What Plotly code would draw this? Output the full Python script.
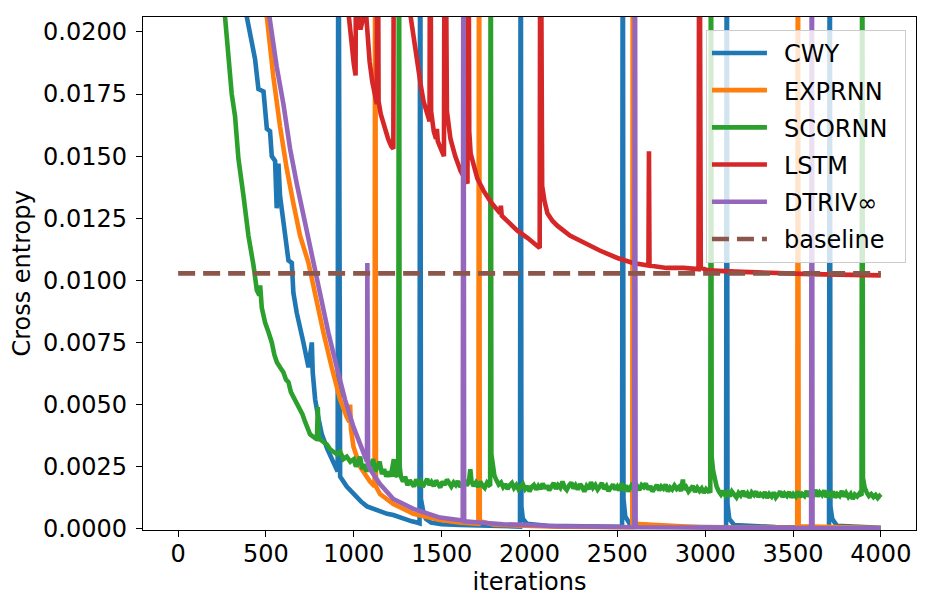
import plotly.graph_objects as go

# ---- data (iteration, cross entropy) ----
# values of 0.030 mark spikes that leave the top of the visible range
CWY = [(0, 0.030), (300, 0.024), (391, 0.0206), (419, 0.0196), (438, 0.0189), (457, 0.0177),
       (486, 0.0176), (505, 0.0161), (523, 0.0160), (533, 0.0150), (552, 0.0148), (561, 0.0129),
       (571, 0.0147), (580, 0.0134), (600, 0.0122), (628, 0.0108), (647, 0.0107), (656, 0.0095),
       (675, 0.0087), (694, 0.0080), (713, 0.0075), (742, 0.0065), (761, 0.0075), (766, 0.0063),
       (780, 0.0052), (800, 0.0044), (818, 0.0038), (850, 0.0032), (875, 0.0028), (900, 0.0024),
       (908, 0.0023), (912, 0.030), (916, 0.0022), (922, 0.0021), (960, 0.0017), (998, 0.0014),
       (1040, 0.0011), (1075, 0.0009), (1111, 0.0008), (1150, 0.0007), (1190, 0.0006),
       (1225, 0.00055), (1280, 0.0004), (1330, 0.0003), (1360, 0.00025), (1374, 0.00022),
       (1378, 0.030), (1382, 0.0012), (1395, 0.0007), (1410, 0.0004), (1440, 0.00025),
       (1500, 0.00018), (1600, 0.00015), (1700, 0.00012), (1800, 0.0001), (1946, 0.00009),
       (1950, 0.030), (1954, 0.0009), (1962, 0.0004), (1985, 0.0002), (2100, 0.00012),
       (2300, 0.0001), (2527, 0.00008), (2531, 0.030), (2535, 0.0012), (2545, 0.0005),
       (2570, 0.0002), (2800, 0.00008), (3119, 0.00006), (3123, 0.030), (3127, 0.0010),
       (3137, 0.0004), (3165, 0.00015), (3400, 0.00007), (3705, 0.00005), (3709, 0.030),
       (3713, 0.0009), (3723, 0.0004), (3750, 0.00012), (4000, 0.00004)]

EXPRNN = [(0, 0.030), (400, 0.025), (505, 0.0206), (542, 0.0182), (580, 0.0162), (618, 0.0145),
          (656, 0.0131), (694, 0.0118), (742, 0.0107), (789, 0.0091), (827, 0.0079), (874, 0.0065),
          (922, 0.0052), (960, 0.0045), (975, 0.0043), (979, 0.0050), (984, 0.0040), (998, 0.0033),
          (1036, 0.0025), (1092, 0.0019), (1118, 0.0017), (1122, 0.030), (1126, 0.0017),
          (1149, 0.0014), (1225, 0.0010), (1339, 0.0006), (1491, 0.00035), (1600, 0.00025),
          (1709, 0.0002), (1713, 0.030), (1717, 0.0003), (1800, 0.00016), (2155, 0.00008),
          (2585, 0.00006), (2588, 0.030), (2592, 0.0002), (3000, 0.00005), (3524, 0.00004),
          (3528, 0.030), (3532, 0.0001), (4000, 0.00003)]

SCORNN = [(0, 0.030), (200, 0.024), (267, 0.0206), (286, 0.0192), (305, 0.0175), (324, 0.0166),
          (343, 0.0149), (372, 0.0134), (400, 0.0118), (429, 0.0106), (448, 0.0096), (462, 0.0094),
          (467, 0.0098), (476, 0.0089), (495, 0.0083), (515, 0.0079), (533, 0.0075), (548, 0.0070),
          (562, 0.0067), (580, 0.0065), (599, 0.0063), (614, 0.0060), (628, 0.0059), (642, 0.0055),
          (656, 0.0053), (675, 0.0051), (694, 0.0048), (708, 0.0046), (723, 0.0043), (737, 0.0040),
          (751, 0.0038), (770, 0.0037), (790, 0.0036), (795, 0.0049), (800, 0.0036), (808, 0.0036),
          (827, 0.0035), (846, 0.0034), (865, 0.0032), (884, 0.0031), (903, 0.0030), (922, 0.0031),
          (941, 0.0028), (960, 0.0029), (980, 0.0027), (1000, 0.0028), (1012, 0.0025),
          (1025, 0.0027), (1036, 0.0029), (1048, 0.0024), (1060, 0.0026), (1072, 0.0023),
          (1085, 0.0027), (1097, 0.0025), (1110, 0.0028), (1122, 0.0023), (1135, 0.0025),
          (1147, 0.0027), (1160, 0.0022), (1172, 0.0024), (1185, 0.0021), (1197, 0.0023),
          (1210, 0.0021), (1222, 0.0026), (1228, 0.0028), (1234, 0.0021), (1245, 0.0022),
          (1253, 0.0021), (1257, 0.030), (1261, 0.0025), (1268, 0.0021), (1280, 0.0019),
          (1292, 0.0021), (1305, 0.00175), (1318, 0.00195), (1330, 0.00182), (1342, 0.00170),
          (1355, 0.00198), (1367, 0.00180), (1380, 0.00190), (1392, 0.00168), (1405, 0.00185),
          (1418, 0.00200), (1430, 0.00176), (1442, 0.00188), (1455, 0.00172), (1468, 0.00194),
          (1480, 0.00180), (1492, 0.00166), (1505, 0.00190), (1518, 0.00176), (1530, 0.00198),
          (1542, 0.00182), (1555, 0.00170), (1568, 0.00186), (1580, 0.00176), (1592, 0.00192),
          (1605, 0.00168), (1618, 0.00184), (1630, 0.00196), (1642, 0.00174), (1655, 0.00188),
          (1663, 0.00240), (1670, 0.00190), (1682, 0.00172), (1695, 0.00186), (1708, 0.00168),
          (1720, 0.00190), (1732, 0.00175), (1745, 0.00165), (1758, 0.00185), (1770, 0.00175),
          (1776, 0.00178), (1779, 0.030), (1783, 0.00300), (1790, 0.00250), (1800, 0.00215),
          (1812, 0.00195), (1825, 0.00178), (1838, 0.00186), (1850, 0.00168), (1862, 0.00180),
          (1875, 0.00160), (1888, 0.00175), (1900, 0.00184), (1912, 0.00164), (1925, 0.00176),
          (1938, 0.00158), (1950, 0.00170), (1962, 0.00180), (1975, 0.00160), (1988, 0.00172),
          (2000, 0.00150), (2012, 0.00168), (2025, 0.00176), (2038, 0.00158), (2050, 0.00172),
          (2062, 0.00160), (2075, 0.00182), (2088, 0.00162), (2100, 0.00174), (2112, 0.00155),
          (2125, 0.00170), (2138, 0.00184), (2150, 0.00160), (2162, 0.00176), (2175, 0.00165),
          (2188, 0.00190), (2200, 0.00166), (2212, 0.00156), (2225, 0.00174), (2238, 0.00186),
          (2250, 0.00162), (2262, 0.00175), (2275, 0.00158), (2288, 0.00180), (2300, 0.00168),
          (2312, 0.00150), (2325, 0.00172), (2338, 0.00160), (2350, 0.00188), (2362, 0.00165),
          (2375, 0.00176), (2388, 0.00158), (2400, 0.00170), (2412, 0.00184), (2425, 0.00160),
          (2438, 0.00172), (2450, 0.00152), (2462, 0.00168), (2475, 0.00178), (2488, 0.00158),
          (2500, 0.00170), (2512, 0.00155), (2525, 0.00182), (2538, 0.00162), (2550, 0.00174),
          (2562, 0.00150), (2575, 0.00168), (2588, 0.00184), (2600, 0.00160), (2612, 0.00172),
          (2625, 0.00156), (2638, 0.00176), (2650, 0.00168), (2662, 0.00182), (2675, 0.00158),
          (2688, 0.00172), (2700, 0.00150), (2712, 0.00166), (2725, 0.00176), (2738, 0.00155),
          (2750, 0.00170), (2762, 0.00162), (2775, 0.00178), (2788, 0.00150), (2800, 0.00166),
          (2812, 0.00158), (2825, 0.00174), (2838, 0.00160), (2850, 0.00168), (2862, 0.00152),
          (2873, 0.00198), (2880, 0.00158), (2892, 0.00168), (2905, 0.00150), (2918, 0.00164),
          (2930, 0.00172), (2942, 0.00148), (2955, 0.00165), (2968, 0.00152), (2980, 0.00162),
          (2992, 0.00145), (3005, 0.00160), (3018, 0.00150), (3029, 0.00152), (3033, 0.030),
          (3037, 0.00290), (3045, 0.00235), (3055, 0.00195), (3065, 0.00170), (3078, 0.00150),
          (3090, 0.00138), (3102, 0.00152), (3115, 0.00134), (3128, 0.00146), (3140, 0.00130),
          (3152, 0.00150), (3165, 0.00138), (3178, 0.00126), (3190, 0.00144), (3202, 0.00134),
          (3215, 0.00152), (3228, 0.00130), (3240, 0.00142), (3252, 0.00125), (3265, 0.00146),
          (3278, 0.00136), (3290, 0.00150), (3302, 0.00128), (3315, 0.00140), (3328, 0.00132),
          (3340, 0.00148), (3352, 0.00124), (3365, 0.00140), (3378, 0.00130), (3390, 0.00146),
          (3402, 0.00126), (3415, 0.00138), (3428, 0.00150), (3440, 0.00128), (3452, 0.00142),
          (3465, 0.00132), (3478, 0.00148), (3490, 0.00126), (3502, 0.00140), (3515, 0.00130),
          (3528, 0.00150), (3540, 0.00128), (3552, 0.00140), (3565, 0.00132), (3578, 0.00152),
          (3590, 0.00130), (3602, 0.00144), (3615, 0.00134), (3628, 0.00156), (3640, 0.00130),
          (3652, 0.00146), (3665, 0.00136), (3678, 0.00154), (3690, 0.00128), (3702, 0.00142),
          (3715, 0.00132), (3728, 0.00150), (3740, 0.00126), (3752, 0.00140), (3765, 0.00132),
          (3778, 0.00152), (3790, 0.00130), (3802, 0.00144), (3815, 0.00128), (3828, 0.00140),
          (3840, 0.00120), (3852, 0.00138), (3865, 0.00130), (3878, 0.00142), (3890, 0.00134),
          (3894, 0.030), (3898, 0.00205), (3908, 0.00165), (3920, 0.00145), (3932, 0.00132),
          (3945, 0.00140), (3958, 0.00128), (3970, 0.00136), (3982, 0.00124), (3992, 0.00132),
          (4000, 0.00126)]

LSTM = [(0, 0.030), (900, 0.024), (972, 0.0206), (988, 0.0193), (1000, 0.0187), (1010, 0.01825),
        (1015, 0.030), (1028, 0.0204), (1038, 0.0201), (1048, 0.0204), (1056, 0.030), (1064, 0.0213),
        (1077, 0.0198), (1090, 0.0188), (1105, 0.0180), (1120, 0.0174), (1131, 0.0171),
        (1135, 0.030), (1141, 0.0172), (1153, 0.0167), (1175, 0.0161), (1195, 0.0157),
        (1213, 0.0154), (1225, 0.0153), (1229, 0.030), (1265, 0.024), (1305, 0.0215),
        (1323, 0.0206), (1342, 0.0196), (1361, 0.0187), (1380, 0.0179), (1397, 0.0172),
        (1415, 0.0167), (1431, 0.0164), (1435, 0.030), (1440, 0.0168), (1455, 0.0160),
        (1468, 0.0157), (1473, 0.0161), (1478, 0.0156), (1495, 0.0153), (1513, 0.0150),
        (1518, 0.030), (1530, 0.0168), (1550, 0.0157), (1577, 0.0150), (1608, 0.0144),
        (1630, 0.0141), (1647, 0.0139), (1651, 0.030), (1657, 0.0160), (1665, 0.0151),
        (1682, 0.0146), (1703, 0.0141), (1739, 0.0136), (1785, 0.0131), (1833, 0.0127),
        (1837, 0.0130), (1842, 0.0126), (1888, 0.0123), (1931, 0.0120), (1990, 0.0117),
        (2040, 0.0114), (2058, 0.0113), (2062, 0.030), (2067, 0.0150), (2072, 0.0138),
        (2085, 0.0132), (2102, 0.0127), (2130, 0.0124), (2158, 0.0122), (2230, 0.0118),
        (2309, 0.0115), (2400, 0.0112), (2500, 0.0109), (2590, 0.0107), (2677, 0.0106),
        (2680, 0.0152), (2683, 0.0106), (2780, 0.0105), (2878, 0.0105), (2962, 0.01045),
        (2967, 0.030), (2975, 0.0105), (3019, 0.0104), (3170, 0.01035), (3361, 0.0103),
        (3600, 0.01025), (4000, 0.0102)]

DTRIV = [(0, 0.030), (400, 0.025), (520, 0.0206), (561, 0.0186), (599, 0.0171), (637, 0.0153),
         (675, 0.0139), (713, 0.0126), (751, 0.0115), (808, 0.0094), (855, 0.0079), (903, 0.0065),
         (950, 0.0052), (998, 0.0041), (1045, 0.0032), (1075, 0.0027), (1077, 0.0107),
         (1081, 0.0026), (1092, 0.0024), (1149, 0.0018), (1225, 0.0012), (1339, 0.0008),
         (1491, 0.00045), (1620, 0.00033), (1624, 0.030), (1628, 0.0003), (1680, 0.00027),
         (1850, 0.00018), (2003, 0.00015), (2155, 0.0001), (2596, 0.00006), (2600, 0.030),
         (2604, 0.00006), (2857, 0.00005), (3603, 0.00003), (3607, 0.030), (3611, 0.00003),
         (4000, 0.00002)]

BASELINE_X = [0, 4000]
BASELINE_Y = [0.01028, 0.01028]

SERIES = [("CWY", CWY, "#1f77b4"), ("EXPRNN", EXPRNN, "#ff7f0e"), ("SCORNN", SCORNN, "#2ca02c"),
          ("LSTM", LSTM, "#d62728"), ("DTRIV∞", DTRIV, "#9467bd")]

X_TICKS = [0, 500, 1000, 1500, 2000, 2500, 3000, 3500, 4000]
Y_TICKS = [0.0, 0.0025, 0.005, 0.0075, 0.01, 0.0125, 0.015, 0.0175, 0.02]

FONT = "DejaVu Sans"
LW = 4.6
PAD = "\u2002"  # gap between legend line sample and label / right padding


def label(name):
    return PAD + name + PAD


fig = go.Figure()
for name, pts, col in SERIES:
    xs = [p[0] for p in pts]
    ys = [p[1] for p in pts]
    fig.add_trace(go.Scatter(x=xs, y=ys, mode="lines", name=label(name), legendgroup=name,
                             line=dict(color=col, width=LW)))
fig.add_trace(go.Scatter(x=BASELINE_X, y=BASELINE_Y, mode="lines", name=label("baseline"),
                         legendgroup="baseline",
                         line=dict(color="#8c564b", width=LW, dash="17px,8px")))

axis_common = dict(showline=True, mirror=True, linecolor="black", linewidth=1.3,
                   ticks="outside", ticklen=6, tickwidth=1.3, tickcolor="black",
                   showgrid=False, zeroline=False,
                   tickfont=dict(family=FONT, size=24, color="black"))

# the page body adds an 8px offset, so the figure is 8px smaller than the window
fig.update_layout(
    width=926, height=602,
    margin=dict(l=135, r=18, t=9, b=80),
    paper_bgcolor="white", plot_bgcolor="white",
    font=dict(family=FONT, size=24, color="black"),
    xaxis=dict(range=[-200, 4200], tickvals=X_TICKS, ticktext=[str(v) for v in X_TICKS],
               ticklabelstandoff=-4,
               title=dict(text="iterations", font=dict(family=FONT, size=24), standoff=4),
               **axis_common),
    yaxis=dict(range=[-0.00005, 0.0206], tickvals=Y_TICKS,
               ticktext=["%.4f" % v for v in Y_TICKS], ticklabelstandoff=4,
               title=dict(text="Cross entropy", font=dict(family=FONT, size=24), standoff=10),
               **axis_common),
    legend=dict(x=0.987, xanchor="right", y=0.975, yanchor="top",
                bgcolor="rgba(255,255,255,0.8)", bordercolor="#cccccc", borderwidth=1,
                font=dict(family=FONT, size=24, color="black"),
                tracegroupgap=3, itemwidth=55),
    showlegend=True,
)

fig.write_html("out.html")
